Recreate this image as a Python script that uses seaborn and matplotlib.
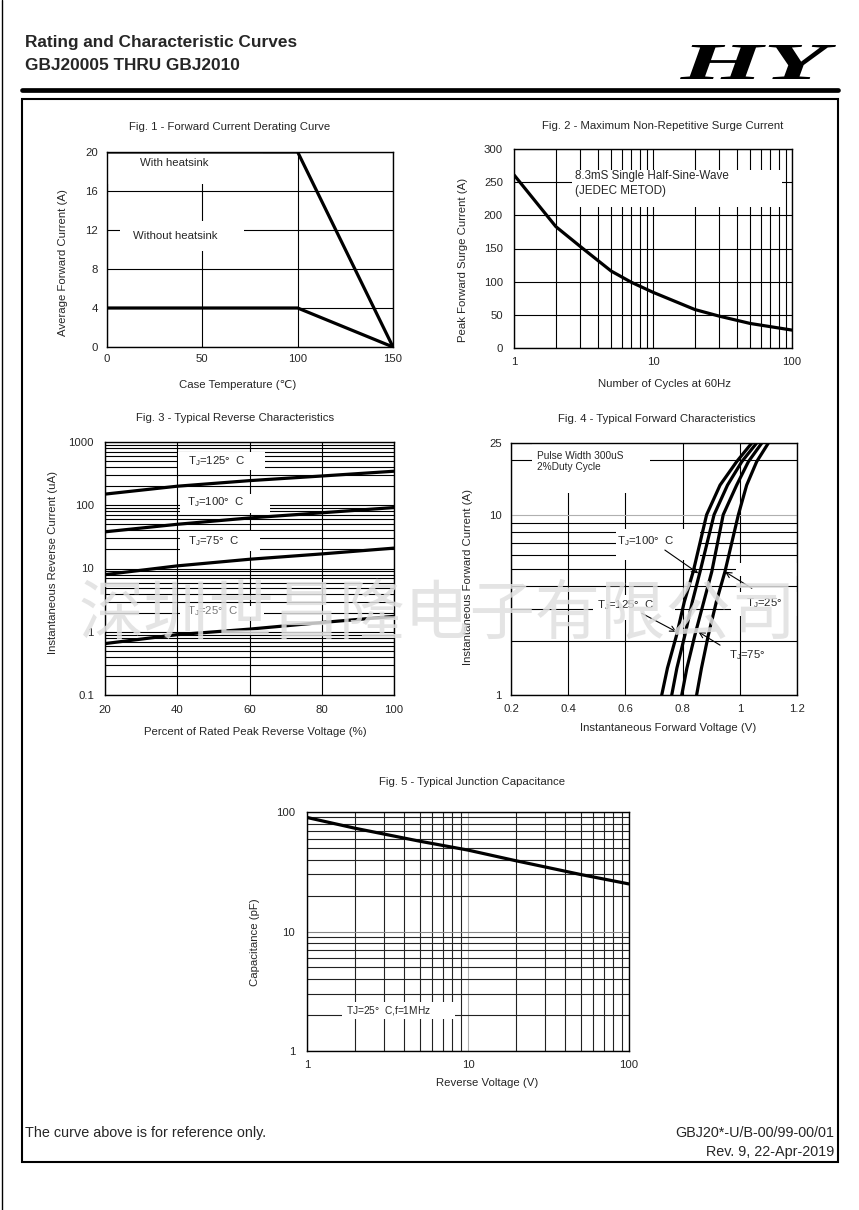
import numpy as np
import pandas as pd
import matplotlib
matplotlib.use("Agg")
import matplotlib.pyplot as plt
import seaborn as sns
from matplotlib.patches import Rectangle, PathPatch
from matplotlib.textpath import TextPath
from matplotlib.font_manager import FontProperties
from matplotlib.transforms import Affine2D
from matplotlib.lines import Line2D
from matplotlib.ticker import FixedLocator, NullFormatter, FixedFormatter

# ---------------- data ----------------
fig1_temp = [0, 100, 150]
fig1_with_heatsink = [20, 20, 0]
fig1_without_heatsink = [4, 4, 0]

fig2_cycles = [1, 2, 3, 5, 7, 10, 20, 30, 50, 100]
fig2_surge = [261, 183, 153, 116, 99, 84, 58, 48, 37, 27]

fig3_voltage_pct = [20, 40, 60, 80, 100]
fig3_ir_125 = [150, 200, 245, 290, 345]
fig3_ir_100 = [38, 50, 63, 76, 92]
fig3_ir_75 = [8, 11, 14, 17, 21]
fig3_ir_25 = [0.65, 0.9, 1.1, 1.4, 1.75]

fig4_current = [1, 1.41, 2.15, 3.29, 4.83, 10, 14.6, 19.7, 25]
fig4_vf_125 = [0.727, 0.747, 0.779, 0.806, 0.837, 0.884, 0.931, 0.989, 1.042]
fig4_vf_100 = [0.762, 0.780, 0.808, 0.834, 0.861, 0.910, 0.957, 1.007, 1.059]
fig4_vf_75 = [0.797, 0.815, 0.843, 0.874, 0.902, 0.942, 0.989, 1.030, 1.077]
fig4_vf_25 = [0.849, 0.866, 0.890, 0.918, 0.948, 0.995, 1.024, 1.059, 1.100]

fig5_voltage = [1, 2, 5, 10, 20, 50, 100]
fig5_cap = [90, 73, 57, 48, 39, 30, 25]

# ---------------- style ----------------
sns.set_style("white", {"axes.edgecolor": "black"})
plt.rcParams["font.family"] = ["Liberation Sans", "DejaVu Sans", "Noto Sans CJK SC"]
plt.rcParams["mathtext.fontset"] = "custom"
plt.rcParams["mathtext.rm"] = "Liberation Sans"

W, H = 859, 1210
fig = plt.figure(figsize=(W / 100, H / 100), dpi=100)
fig.patch.set_facecolor("white")

FS = 8.2
SMALL = 7.3
LW = 2.3
GRID_KW = dict(color="black", lw=0.8)


def fx(x):
    return x / W


def fy(y):
    return 1 - y / H


def add_ax(l, t, r, b):
    ax = fig.add_axes([fx(l), fy(b), (r - l) / W, (b - t) / H])
    ax.set_facecolor("white")
    for s in ax.spines.values():
        s.set_color("black")
        s.set_linewidth(1.0)
        s.set_zorder(2.5)
    ax.set_axisbelow(True)
    ax._pxbox = (l, t, r, b)
    return ax


def place_labels(ax, xl, yl, xpos, ypos):
    l, t, r, b = ax._pxbox
    ax.set_xlabel(xl, fontsize=FS)
    ax.set_ylabel(yl, fontsize=FS)
    ax.xaxis.set_label_coords((xpos[0] - l) / (r - l), (b - xpos[1]) / (b - t))
    ax.yaxis.set_label_coords((ypos[0] - l) / (r - l), (b - ypos[1]) / (b - t))
    ax.xaxis.label.set_verticalalignment("center")
    ax.yaxis.label.set_verticalalignment("center")


def mask(ax, x0, x1, y0, y1):
    ax.add_patch(Rectangle((x0, y0), x1 - x0, y1 - y0, facecolor="white",
                           edgecolor="none", zorder=1))


def fig_title(x, y, s):
    fig.text(fx(x), fy(y), s, ha="center", va="center", fontsize=FS)


def tj(temp, c=True):
    return r"T$_\mathregular{J}$=" + temp + ("°  C" if c else "°")


# ---------------- page frame ----------------
fig.add_artist(Line2D([fx(1.5), fx(1.5)], [0, 1], color="black", lw=1.0))
fig.add_artist(Line2D([fx(22), fx(838)], [fy(89.5), fy(89.5)], color="black", lw=3.4))
fig.add_artist(Rectangle((fx(22), fy(1162)), (838 - 22) / W, (1162 - 98.5) / H,
                         transform=fig.transFigure, facecolor="none",
                         edgecolor="black", lw=1.5))

fig.text(fx(25), fy(42.5), "Rating and Characteristic Curves", fontsize=12.4,
         fontweight="bold", ha="left", va="center")
fig.text(fx(25), fy(65.5), "GBJ20005 THRU GBJ2010", fontsize=12.4,
         fontweight="bold", ha="left", va="center")

# HY logo
tp = TextPath((0, 0), "HY", size=1,
              prop=FontProperties(family="Liberation Serif", weight="bold", style="italic"))
bb = tp.get_extents()
lx0, lx1, ly0, ly1 = 680, 836, 45, 79
tr = (Affine2D().translate(-bb.x0, -bb.y0)
      .scale((lx1 - lx0) / W / bb.width, (ly1 - ly0) / H / bb.height)
      .translate(fx(lx0), fy(ly1)) + fig.transFigure)
fig.add_artist(PathPatch(tp, transform=tr, facecolor="black", edgecolor="none"))

fig.text(fx(25), fy(1133), "The curve above is for reference only.", fontsize=10.4,
         ha="left", va="center")
fig.text(fx(834), fy(1133), "GBJ20*-U/B-00/99-00/01", fontsize=10.4, ha="right", va="center")
fig.text(fx(834), fy(1152), "Rev. 9, 22-Apr-2019", fontsize=10.4, ha="right", va="center")

# ---------------- Fig 1 ----------------
ax1 = add_ax(107, 152, 393, 347)
ax1.set_xlim(0, 150)
ax1.set_ylim(0, 20)
ax1.xaxis.set_major_locator(FixedLocator([0, 50, 100, 150]))
ax1.yaxis.set_major_locator(FixedLocator([0, 4, 8, 12, 16, 20]))
ax1.grid(True, which="major", **GRID_KW)
ax1.tick_params(length=0, labelsize=FS)
ax1.tick_params(axis="y", pad=6.5)
ax1.tick_params(axis="x", pad=5)
df1 = pd.DataFrame({"T": fig1_temp * 2,
                    "I": fig1_with_heatsink + fig1_without_heatsink,
                    "s": ["with"] * 3 + ["without"] * 3})
sns.lineplot(data=df1, x="T", y="I", units="s", estimator=None, sort=False,
             color="black", lw=LW, ax=ax1, legend=False)
mask(ax1, 0, 82, 16.7, 20)
mask(ax1, 6.8, 72, 9.8, 12.9)
ax1.text(17.3, 18.9, "With heatsink", fontsize=FS, va="center", ha="left")
ax1.text(13.6, 11.4, "Without heatsink", fontsize=FS, va="center", ha="left")
place_labels(ax1, "Case Temperature (℃)", "Average Forward Current (A)", (238, 385), (63, 263))
fig_title(229.5, 127, "Fig. 1 - Forward Current Derating Curve")

# ---------------- Fig 2 ----------------
ax2 = add_ax(514, 149, 792, 348)
ax2.set_xscale("log")
ax2.set_xlim(1, 100)
ax2.set_ylim(0, 300)
ax2.xaxis.set_major_locator(FixedLocator([1, 10, 100]))
ax2.xaxis.set_major_formatter(FixedFormatter(["1", "10", "100"]))
ax2.xaxis.set_minor_locator(FixedLocator([2, 3, 4, 5, 6, 7, 8, 9, 20, 30, 40, 50, 60, 70, 80, 90]))
ax2.xaxis.set_minor_formatter(NullFormatter())
ax2.yaxis.set_major_locator(FixedLocator([0, 50, 100, 150, 200, 250, 300]))
ax2.grid(True, which="both", **GRID_KW)
ax2.tick_params(which="both", length=0, labelsize=FS)
ax2.tick_params(axis="y", pad=8)
ax2.tick_params(axis="x", pad=6.5)
sns.lineplot(x=fig2_cycles, y=fig2_surge, color="black", lw=LW, ax=ax2, sort=False,
             estimator=None)
mask(ax2, 2.6, 85, 212, 268)
ax2.text(2.75, 259.8, "8.3mS Single Half-Sine-Wave", fontsize=8.4, va="center", ha="left")
ax2.text(2.75, 237, "(JEDEC METOD)", fontsize=8.4, va="center", ha="left")
place_labels(ax2, "Number of Cycles at 60Hz", "Peak Forward Surge Current (A)", (664.7, 384), (463, 260))
fig_title(662.5, 126, "Fig. 2 - Maximum Non-Repetitive Surge Current")

# ---------------- Fig 3 ----------------
ax3 = add_ax(105, 442, 394, 695)
ax3.set_yscale("log")
ax3.set_xlim(20, 100)
ax3.set_ylim(0.1, 1000)
ax3.xaxis.set_major_locator(FixedLocator([20, 40, 60, 80, 100]))
ax3.yaxis.set_major_locator(FixedLocator([0.1, 1, 10, 100, 1000]))
ax3.yaxis.set_major_formatter(FixedFormatter(["0.1", "1", "10", "100", "1000"]))
minor3 = [m * d for d in [0.1, 1, 10, 100] for m in range(2, 10)]
ax3.yaxis.set_minor_locator(FixedLocator(minor3))
ax3.yaxis.set_minor_formatter(NullFormatter())
ax3.grid(True, which="both", axis="y", **GRID_KW)
ax3.grid(True, which="major", axis="x", **GRID_KW)
ax3.tick_params(which="both", length=0, labelsize=FS)
ax3.tick_params(axis="y", pad=8)
ax3.tick_params(axis="x", pad=7)
df3 = pd.DataFrame({
    "V": fig3_voltage_pct * 4,
    "I": fig3_ir_125 + fig3_ir_100 + fig3_ir_75 + fig3_ir_25,
    "T": ["125"] * 5 + ["100"] * 5 + ["75"] * 5 + ["25"] * 5,
})
sns.lineplot(data=df3, x="V", y="I", units="T", estimator=None, sort=False,
             color="black", lw=LW, ax=ax3, legend=False)
mask(ax3, 40.2, 64.3, 360, 700)
mask(ax3, 40.8, 65.7, 76, 148)
mask(ax3, 40.8, 63, 19, 38.5)
mask(ax3, 40.8, 64, 1.7, 2.6)
ax3.text(43, 490, tj("125"), fontsize=FS, va="center")
ax3.text(42.6, 112, tj("100"), fontsize=FS, va="center")
ax3.text(43, 27, tj("75"), fontsize=FS, va="center")
ax3.text(42.6, 2.1, tj("25"), fontsize=FS, va="center", color="#777777")
place_labels(ax3, "Percent of Rated Peak Reverse Voltage (%)", "Instantaneous Reverse Current (uA)",
             (255, 731.7), (53, 562))
fig_title(235, 417.7, "Fig. 3 - Typical Reverse Characteristics")

# ---------------- Fig 4 ----------------
ax4 = add_ax(511, 443, 797, 695)
ax4.set_yscale("log")
ax4.set_xlim(0.2, 1.2)
ax4.set_ylim(1, 25)
ax4.xaxis.set_major_locator(FixedLocator([0.2, 0.4, 0.6, 0.8, 1.0, 1.2]))
ax4.xaxis.set_major_formatter(FixedFormatter(["0.2", "0.4", "0.6", "0.8", "1", "1.2"]))
ax4.yaxis.set_major_locator(FixedLocator([1, 10, 25]))
ax4.yaxis.set_major_formatter(FixedFormatter(["1", "10", "25"]))
ax4.yaxis.set_minor_locator(FixedLocator([2, 3, 4, 5, 6, 7, 8, 9, 20]))
ax4.yaxis.set_minor_formatter(NullFormatter())
ax4.grid(True, which="both", axis="y", **GRID_KW)
ax4.grid(True, which="major", axis="x", **GRID_KW)
ax4.yaxis.get_major_ticks()[1].gridline.set_color("#b0b0b0")
ax4.tick_params(which="both", length=0, labelsize=FS)
ax4.tick_params(axis="y", pad=6.7)
ax4.tick_params(axis="x", pad=6.5)
df4 = pd.DataFrame({
    "V": fig4_vf_125 + fig4_vf_100 + fig4_vf_75 + fig4_vf_25,
    "I": fig4_current * 4,
    "T": ["125"] * 9 + ["100"] * 9 + ["75"] * 9 + ["25"] * 9,
})
sns.lineplot(data=df4, x="V", y="I", units="T", estimator=None, sort=False,
             color="black", lw=LW, ax=ax4, legend=False)
mask(ax4, 0.272, 0.686, 13.2, 25)
mask(ax4, 0.566, 0.86, 5.6, 8.3)
mask(ax4, 0.487, 0.773, 2.6, 3.6)
mask(ax4, 0.97, 1.2, 2.75, 3.75)
mask(ax4, 0.985, 1.2, 4.6, 5.4)
ax4.text(0.29, 21.2, "Pulse Width 300uS", fontsize=SMALL, va="center")
ax4.text(0.29, 18.5, "2%Duty Cycle", fontsize=SMALL, va="center")
ax4.text(0.57, 7.1, tj("100"), fontsize=FS, va="center")
ax4.text(0.50, 3.16, tj("125"), fontsize=FS, va="center")
ax4.text(1.022, 3.23, tj("25", c=False), fontsize=FS, va="center")
ax4.text(0.962, 1.67, tj("75", c=False), fontsize=FS, va="center")
arrow_kw = dict(arrowstyle="->", lw=0.8, color="black", shrinkA=0, shrinkB=0)
ax4.annotate("", xy=(0.855, 4.73), xytext=(0.738, 6.37), arrowprops=arrow_kw, zorder=3)
ax4.annotate("", xy=(0.779, 2.24), xytext=(0.657, 2.84), arrowprops=arrow_kw, zorder=3)
ax4.annotate("", xy=(0.855, 2.24), xytext=(0.931, 1.89), arrowprops=arrow_kw, zorder=3)
ax4.annotate("", xy=(0.948, 4.83), xytext=(1.042, 3.91), arrowprops=arrow_kw, zorder=3)
place_labels(ax4, "Instantaneous Forward Voltage (V)", "Instantaneous Forward Current (A)",
             (668, 727.7), (468, 577))
fig_title(656.7, 419, "Fig. 4 - Typical Forward Characteristics")

# ---------------- Fig 5 ----------------
ax5 = add_ax(307, 812, 629, 1051)
ax5.set_xscale("log")
ax5.set_yscale("log")
ax5.set_xlim(1, 100)
ax5.set_ylim(1, 100)
minor5 = [2, 3, 4, 5, 6, 7, 8, 9, 20, 30, 40, 50, 60, 70, 80, 90]
for axis in (ax5.xaxis, ax5.yaxis):
    axis.set_major_locator(FixedLocator([1, 10, 100]))
    axis.set_major_formatter(FixedFormatter(["1", "10", "100"]))
    axis.set_minor_locator(FixedLocator(minor5))
    axis.set_minor_formatter(NullFormatter())
ax5.grid(True, which="both", color="#222222", lw=0.8)
ax5.xaxis.get_major_ticks()[1].gridline.set_color("#b0b0b0")
ax5.yaxis.get_major_ticks()[1].gridline.set_color("#888888")
ax5.tick_params(which="both", length=0, labelsize=FS)
ax5.tick_params(axis="y", pad=8.6)
ax5.tick_params(axis="x", pad=6.5)
sns.lineplot(x=fig5_voltage, y=fig5_cap, color="black", lw=LW, ax=ax5, sort=False,
             estimator=None)
mask(ax5, 1.65, 8.3, 1.85, 2.55)
ax5.text(1.75, 2.18, r"T$\mathregular{J}$=25°  C,f=1MHz", fontsize=SMALL, va="center")
place_labels(ax5, "Reverse Voltage (V)", "Capacitance (pF)", (487.5, 1083), (255, 942))
fig_title(471.7, 782, "Fig. 5 - Typical Junction Capacitance")

# ---------------- watermark ----------------
fig.text(fx(437), fy(616), "深圳世昌隆电子有限公司", fontsize=47,
         family=["Noto Sans CJK SC", "DejaVu Sans"], weight="light",
         color="#e0e0e0", alpha=0.85, ha="center", va="center", zorder=10)

fig.savefig("out.png", dpi=100, facecolor="white")
